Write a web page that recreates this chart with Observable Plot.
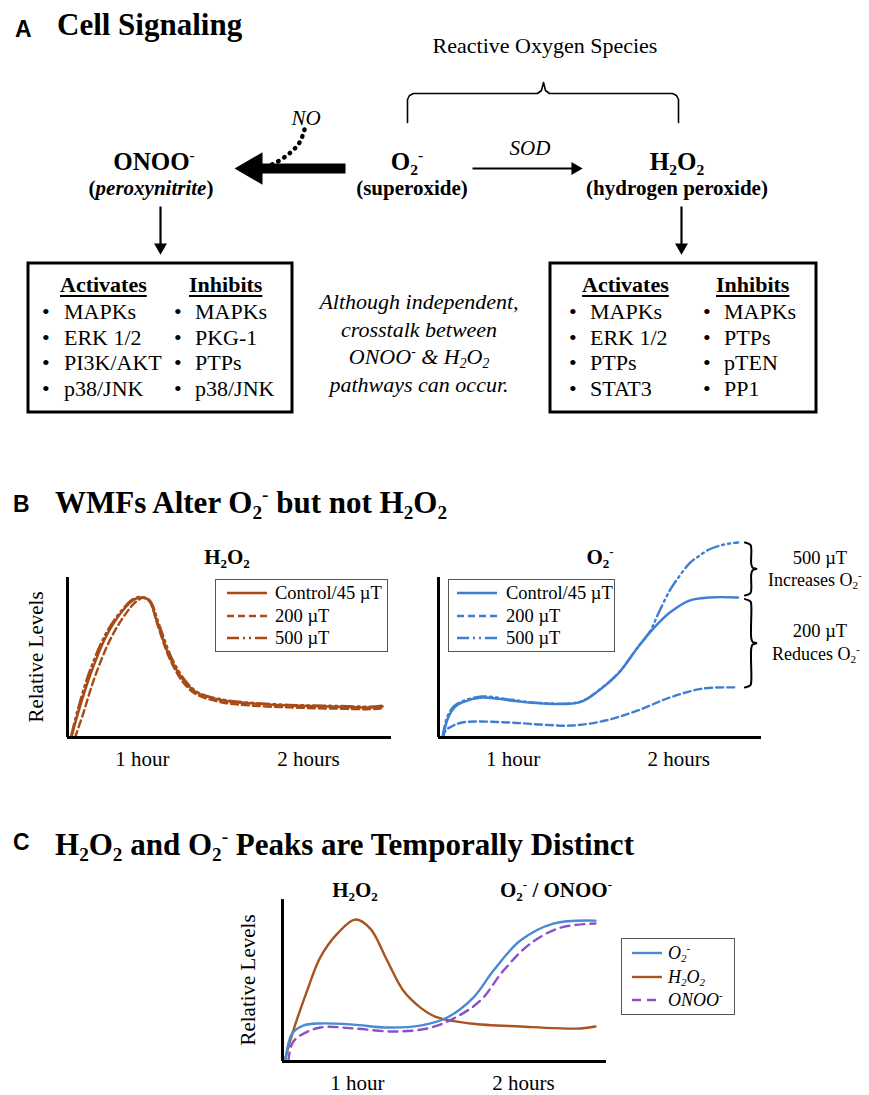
<!DOCTYPE html>
<html><head><meta charset="utf-8">
<script src="https://cdn.jsdelivr.net/npm/d3@7"></script>
<script src="https://cdn.jsdelivr.net/npm/@observablehq/plot@0.6"></script>
<style>
html,body{margin:0;padding:0;background:#fff;}
#page{position:relative;width:869px;height:1095px;overflow:hidden;background:#fff;color:#000;}
.t{position:absolute;white-space:nowrap;line-height:1;}
.t sub{font-size:0.62em;vertical-align:-0.3em;line-height:0;}
.t sup{font-size:0.62em;vertical-align:0.62em;line-height:0;}
.lg{position:absolute;border:1.5px solid #555;box-sizing:border-box;background:#fff;}
</style></head><body><div id="page"></div><script>
// ---------- data ----------
const timeTicks = [60, 120];
const timeTickLabels = ["1 hour", "2 hours"];
const fieldLabels = ["Control/45 µT", "200 µT", "500 µT"];

// Panel B, H2O2 (time in minutes, relative level)
const bH2O2Control = [[34.6,1.3],[37.1,16.9],[41.4,40],[47.5,65],[53.6,80.6],[57.1,86.3],[60,87.5],[62.5,85.6],[65.4,71.9],[70,50],[75,35.6],[79.6,28.1],[89.3,23.1],[99.3,21.3],[112.9,20],[127.9,19.4],[144,18.8],[146.8,19.4]];
const bH2O2_200 = [[35.7,0],[38.5,14],[42.8,37.5],[48.8,62.5],[54.5,78.5],[57.8,85],[60.5,87.3],[62.8,84.5],[65.6,70],[70,48.8],[74.8,34.4],[79.5,27],[89,21.9],[99,20],[113,18.8],[128,18.1],[144,17.8],[146.8,18.4]];
const bH2O2_500 = [[34.4,1.5],[36.8,18],[41,41.5],[47.2,66],[53.4,81.2],[57,86.8],[60,87.8],[62.8,85.5],[66,71],[70.8,49],[75.8,35],[80.3,28],[90,23.4],[100,21.6],[113,20.4],[128,19.8],[144,19.4],[146.8,20]];

// Panel B, O2-
const bO2Control = [[34.6,0],[36.4,11.9],[38.8,18.8],[41.6,21.9],[48.7,25],[59.3,23.1],[69.9,21.3],[84,21.9],[91.1,29.4],[98.1,40],[105.2,56.3],[111.2,68.8],[116.8,78.1],[123.9,85.6],[131,87.5],[141.5,87.5]];
const bO2_200 = [[34.6,0],[35.6,4.4],[37.1,6.3],[41.6,9.4],[58.2,9.4],[69.9,8.1],[81.5,7.5],[93.5,10.6],[105.2,16.9],[116.8,25],[128.8,30.6],[141.5,31.3]];
const bO2_500 = [[34.4,0],[36.2,13],[38.6,19.6],[41.6,22.6],[48.7,25.6],[59.3,23.6],[69.9,21.6],[84,22.2],[91.1,29.6],[98.1,40.2],[105.2,56.5],[109.8,66.9],[112.5,77],[116.8,92],[119.5,99],[123.9,108.8],[127,113],[131,117.5],[136.2,120.5],[141.5,121.9]];

// Panel C
const cO2 = [[34,0],[36.5,17.3],[40.5,22.2],[46.6,23.5],[58.6,22.8],[70.8,21],[82.8,22.2],[92.5,27.2],[101.9,39.5],[109.2,56.2],[118.9,74.7],[130.8,85.2],[146,87]];
const cH2O2 = [[34,1.9],[36.9,19.1],[41.9,43.8],[46.6,64.2],[52.8,79],[59.3,87.7],[64.7,82.1],[70.8,62.3],[76.6,43.8],[82.8,33.3],[88.9,27.2],[100.8,23.5],[118.9,21.6],[140.6,20.4],[146,21.6]];
const cONOO = [[35.1,0],[36.2,9.9],[38.3,14.8],[46.6,21],[58.6,20.4],[73,18.5],[85.3,20.4],[94.7,26.5],[104.5,37.7],[112.8,56.2],[122.5,72.8],[133.4,82.7],[146,85.2]];

// Panel A lists
const onooActivates = ["MAPKs","ERK 1/2","PI3K/AKT","p38/JNK"];
const onooInhibits = ["MAPKs","PKG-1","PTPs","p38/JNK"];
const h2o2Activates = ["MAPKs","ERK 1/2","PTPs","STAT3"];
const h2o2Inhibits = ["MAPKs","PTPs","pTEN","PP1"];

// ---------- styles ----------
const SERIF = '"Liberation Serif","Times New Roman",Times,serif';
const SANS = '"Liberation Sans",Arial,Helvetica,sans-serif';
const BROWN = "#a64b17", BLUE = "#3d7fd0", CBLUE = "#4a8ad4", CBROWN = "#a9531f", PURPLE = "#8b4fc9";
const DASH = "7,4", DASHDOT = "12,4,2,4,2,4", PDASH = "9,6";
const tDomain = [33, 150];

const page = document.getElementById("page");
function T(html, x, base, size, o = {}) {
  const d = document.createElement("div");
  d.className = "t";
  d.innerHTML = html;
  const asc = o.sans ? 0.8465 : 0.8375;
  d.style.fontFamily = o.sans ? SANS : SERIF;
  d.style.fontSize = size + "px";
  d.style.fontWeight = o.bold ? "bold" : "normal";
  d.style.fontStyle = o.italic ? "italic" : "normal";
  if (o.underline) { d.style.textDecoration = "underline"; d.style.textUnderlineOffset = "3px"; d.style.textDecorationThickness = "1.8px"; }
  d.style.left = x + "px";
  d.style.top = (base - asc * size) + "px";
  if (o.anchor === "middle") d.style.transform = "translateX(-50%)";
  (o.parent || page).appendChild(d);
  return d;
}
function V(text, cx, cy, size) {
  const d = document.createElement("div");
  d.className = "t";
  d.textContent = text;
  d.style.fontFamily = SERIF; d.style.fontSize = size + "px";
  d.style.left = cx + "px"; d.style.top = cy + "px";
  d.style.transform = "translate(-50%,-50%) rotate(-90deg)";
  page.appendChild(d);
}
function place(svg, left, top) {
  svg.style.position = "absolute"; svg.style.left = left + "px"; svg.style.top = top + "px";
  svg.style.overflow = "visible"; svg.style.background = "transparent";
  page.appendChild(svg);
}

// ---------- Panel A diagram ----------
const bracePts = [[407,122],[407,99],[409,95],[413,93],[537,93],[541,90],[543,82],[545,90],[549,93],[672,93],[676,95],[678,99],[678,122]];
const noPath = [[304,129],[299,142],[290,152],[279,160],[269,165]];
const thinLinks = [{x1:472,y1:168,x2:577,y2:168},{x1:160,y1:206,x2:160,y2:248},{x1:681,y1:206,x2:681,y2:248}];
const thinHeads = [{x:574.7,y:168,rot:90},{x:160,y:246.7,rot:180},{x:681,y:246.7,rot:180}];
const boxes = [{x1:28,x2:292,y1:263,y2:412},{x1:550,x2:816,y1:263,y2:412}];

const diag = Plot.plot({
  width: 869, height: 420, margin: 0,
  x: {domain: [0, 869], range: [0, 869], axis: null},
  y: {domain: [0, 420], range: [0, 420], axis: null},
  marks: [
    Plot.line(bracePts, {x: d => d[0], y: d => d[1], stroke: "black", strokeWidth: 1.6}),
    Plot.link([{x1:345,x2:258,y:168}], {x1:"x1", x2:"x2", y1:"y", y2:"y", stroke:"black", strokeWidth: 10}),
    Plot.dot([{x:252.7,y:168}], {x:"x", y:"y", symbol:"triangle", r: 12, rotate: -90, fill:"black", stroke:"none"}),
    Plot.link(thinLinks, {x1:"x1", y1:"y1", x2:"x2", y2:"y2", stroke:"black", strokeWidth: 2.2}),
    Plot.dot(thinHeads, {x:"x", y:"y", symbol:"triangle", r: 4.8, rotate:"rot", fill:"black", stroke:"none"}),
    Plot.line(noPath, {x: d => d[0], y: d => d[1], curve:"natural", stroke:"black", strokeWidth: 4.5, strokeDasharray:"0.5,6.5", strokeLinecap:"round"}),
    Plot.rect(boxes, {x1:"x1", x2:"x2", y1:"y1", y2:"y2", fill:"none", stroke:"black", strokeWidth: 3})
  ]
});
place(diag, 0, 0);

T("A", 15, 37, 23, {sans: true, bold: true});
T("Cell Signaling", 57, 35, 31, {bold: true});
T("Reactive Oxygen Species", 545, 53, 22, {anchor: "middle"});
T("NO", 306, 126, 21, {italic: true, anchor: "middle"});
T("SOD", 530, 156, 21, {italic: true, anchor: "middle"});
T("ONOO<sup>-</sup>", 154, 170, 25, {bold: true, anchor: "middle"});
T("(<i>peroxynitrite</i>)", 151, 196, 21, {bold: true, anchor: "middle"});
T("O<sub>2</sub><sup>-</sup>", 407, 170, 25, {bold: true, anchor: "middle"});
T("(superoxide)", 412, 196, 21, {bold: true, anchor: "middle"});
T("H<sub>2</sub>O<sub>2</sub>", 677, 170, 25, {bold: true, anchor: "middle"});
T("(hydrogen peroxide)", 677, 196, 21, {bold: true, anchor: "middle"});

const rowBase = [319, 345, 370, 396];
function listBox(act, inh, hx1, hx2, bx1, tx1, bx2, tx2) {
  T("Activates", hx1, 292, 22, {bold: true, underline: true});
  T("Inhibits", hx2, 292, 22, {bold: true, underline: true});
  act.forEach((s, i) => { T("•", bx1, rowBase[i], 22); T(s, tx1, rowBase[i], 22); });
  inh.forEach((s, i) => { T("•", bx2, rowBase[i], 22); T(s, tx2, rowBase[i], 22); });
}
listBox(onooActivates, onooInhibits, 60, 189, 42, 64, 174, 195);
listBox(h2o2Activates, h2o2Inhibits, 582, 716, 569, 590, 703, 724);
const crossLines = ["Although independent,", "crosstalk between", "ONOO<sup>-</sup> &amp; H<sub>2</sub>O<sub>2</sub>", "pathways can occur."];
crossLines.forEach((s, i) => T(s, 419, [309, 337, 364, 392][i], 22, {italic: true, anchor: "middle"}));

// ---------- chart helper ----------
function timeChart({lines, left, top, width, height, ml, mr, mt, mb, yMax, extra = []}) {
  const svg = Plot.plot({
    width, height, marginLeft: ml, marginRight: mr, marginTop: mt, marginBottom: mb,
    x: {domain: tDomain, axis: null},
    y: {domain: [0, yMax], axis: null},
    style: {fontFamily: SERIF, fontSize: "21px", color: "black", background: "transparent"},
    marks: [
      ...lines.map(l => Plot.line(l.data, {x: d => d[0], y: d => d[1], stroke: l.color, strokeWidth: 2.4, strokeDasharray: l.dash, curve: "catmull-rom"})),
      ...extra,
      Plot.ruleY([0], {x1: tDomain[0], x2: tDomain[1], stroke: "black", strokeWidth: 3}),
      Plot.ruleX([tDomain[0]], {y1: 0, y2: 100, stroke: "black", strokeWidth: 3}),
      Plot.axisX(timeTicks, {tickSize: 0, tickPadding: 14, tickFormat: d => timeTickLabels[timeTicks.indexOf(d)], fontSize: 21})
    ]
  });
  place(svg, left, top);
}
function legend({left, top, w, h, rows, rowY, lx1, lx2, tx, size, italic}) {
  const box = document.createElement("div");
  box.className = "lg";
  Object.assign(box.style, {left: left + "px", top: top + "px", width: w + "px", height: h + "px"});
  page.appendChild(box);
  const ns = "http://www.w3.org/2000/svg";
  const s = document.createElementNS(ns, "svg");
  s.setAttribute("width", w); s.setAttribute("height", h);
  s.style.position = "absolute"; s.style.left = "-1.5px"; s.style.top = "-1.5px";
  rows.forEach((r, i) => {
    const ln = document.createElementNS(ns, "line");
    ln.setAttribute("x1", lx1); ln.setAttribute("x2", lx2);
    ln.setAttribute("y1", rowY[i]); ln.setAttribute("y2", rowY[i]);
    ln.setAttribute("stroke", r.color); ln.setAttribute("stroke-width", 2.4);
    if (r.dash) ln.setAttribute("stroke-dasharray", r.dash);
    s.appendChild(ln);
  });
  box.appendChild(s);
  rows.forEach((r, i) => T(r.label, left + tx, top + rowY[i] + 6, size, {italic}));
}
function brace(x0, yA, yB) {
  const m = (yA + yB) / 2;
  return [[x0,yA],[x0+2.0,yA-1.5],[x0+2.3,yA-4],[x0+2.3,m+3],[x0+2.8,m+0.8],[x0+4.2,m],[x0+2.8,m-0.8],[x0+2.3,m-3],[x0+2.3,yB+4],[x0+2.0,yB+1.5],[x0,yB]];
}

// ---------- Panel B ----------
T("B", 13, 512, 23, {sans: true, bold: true});
T("WMFs Alter O<sub>2</sub><sup>-</sup> but not H<sub>2</sub>O<sub>2</sub>", 55, 513, 31, {bold: true});

timeChart({
  lines: [
    {data: bH2O2Control, color: BROWN},
    {data: bH2O2_200, color: BROWN, dash: DASH},
    {data: bH2O2_500, color: BROWN, dash: DASHDOT}
  ],
  left: 0, top: 520, width: 400, height: 260, ml: 67, mr: 9, mt: 17, mb: 43, yMax: 125
});
T("H<sub>2</sub>O<sub>2</sub>", 227, 565, 21, {bold: true, anchor: "middle"});
V("Relative Levels", 36, 657, 21);
legend({left: 215, top: 579, w: 173, h: 73, rowY: [14, 37, 59], lx1: 12, lx2: 52, tx: 60, size: 18.5,
  rows: [{label: fieldLabels[0], color: BROWN}, {label: fieldLabels[1], color: BROWN, dash: DASH}, {label: fieldLabels[2], color: BROWN, dash: DASHDOT}]});

const o2End = bO2Control[bO2Control.length - 1][1];
const o2End500 = bO2_500[bO2_500.length - 1][1];
const o2End200 = bO2_200[bO2_200.length - 1][1];
timeChart({
  lines: [
    {data: bO2Control, color: BLUE},
    {data: bO2_200, color: BLUE, dash: DASH},
    {data: bO2_500, color: BLUE, dash: DASHDOT}
  ],
  left: 400, top: 520, width: 469, height: 260, ml: 38, mr: 108, mt: 17, mb: 43, yMax: 125,
  extra: [
    Plot.line(brace(144, o2End500, o2End + 1.3), {x: d => d[0], y: d => d[1], stroke: "black", strokeWidth: 2, curve: "catmull-rom"}),
    Plot.line(brace(144, o2End - 1, o2End200), {x: d => d[0], y: d => d[1], stroke: "black", strokeWidth: 2, curve: "catmull-rom"})
  ]
});
T("O<sub>2</sub><sup>-</sup>", 600, 565, 21, {bold: true, anchor: "middle"});
legend({left: 448, top: 579, w: 167, h: 73, rowY: [14, 37, 59], lx1: 9, lx2: 49, tx: 58, size: 18.5,
  rows: [{label: fieldLabels[0], color: BLUE}, {label: fieldLabels[1], color: BLUE, dash: DASH}, {label: fieldLabels[2], color: BLUE, dash: DASHDOT}]});
T("500 µT", 820, 564, 18.5, {anchor: "middle"});
T("Increases O<sub>2</sub><sup>-</sup>", 768, 586, 18);
T("200 µT", 820, 637, 18.5, {anchor: "middle"});
T("Reduces O<sub>2</sub><sup>-</sup>", 772, 660, 18);

// ---------- Panel C ----------
T("C", 13, 850, 23, {sans: true, bold: true});
T("H<sub>2</sub>O<sub>2</sub> and O<sub>2</sub><sup>-</sup> Peaks are Temporally Distinct", 55, 855, 31, {bold: true});
timeChart({
  lines: [
    {data: cH2O2, color: CBROWN},
    {data: cONOO, color: PURPLE, dash: PDASH},
    {data: cO2, color: CBLUE}
  ],
  left: 220, top: 880, width: 400, height: 215, ml: 62, mr: 14, mt: 11, mb: 34, yMax: 105
});
T("H<sub>2</sub>O<sub>2</sub>", 355, 898, 21, {bold: true, anchor: "middle"});
T("O<sub>2</sub><sup>-</sup> / ONOO<sup>-</sup>", 500, 898, 21, {bold: true});
V("Relative Levels", 248, 980, 21);
legend({left: 621, top: 938, w: 114, h: 77, rowY: [15, 39, 62], lx1: 11, lx2: 41, tx: 47, size: 18, italic: true,
  rows: [{label: "O<sub>2</sub><sup>-</sup>", color: CBLUE}, {label: "H<sub>2</sub>O<sub>2</sub>", color: CBROWN}, {label: "ONOO<sup>-</sup>", color: PURPLE, dash: PDASH}]});
</script></body></html>
